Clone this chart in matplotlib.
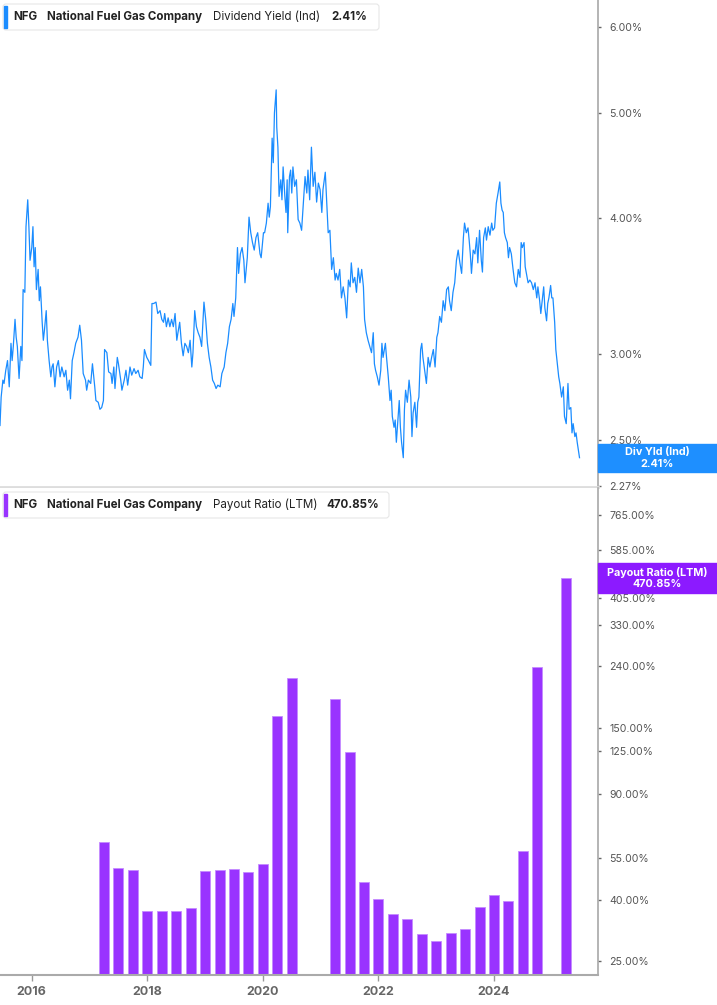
import matplotlib
matplotlib.use('agg')
import matplotlib.pyplot as plt
from matplotlib.patches import Rectangle, FancyBboxPatch
from matplotlib.ticker import FixedLocator, NullLocator, FuncFormatter
from matplotlib.transforms import IdentityTransform

plt.rcParams['font.family'] = ['Inter', 'DejaVu Sans']

# dividend yield (ind) in %, dates as decimal years
yield_dates = [
    2015.45, 2015.47, 2015.50, 2015.52, 2015.55, 2015.58, 2015.61, 2015.64, 2015.66, 2015.68,
    2015.71, 2015.73, 2015.75, 2015.78, 2015.81, 2015.83, 2015.85, 2015.88, 2015.90, 2015.93,
    2015.95, 2015.97, 2016.00, 2016.02, 2016.04, 2016.06, 2016.08, 2016.11, 2016.13, 2016.15,
    2016.18, 2016.20, 2016.22, 2016.25, 2016.27, 2016.30, 2016.33, 2016.35, 2016.37, 2016.40,
    2016.43, 2016.46, 2016.49, 2016.52, 2016.56, 2016.59, 2016.62, 2016.65, 2016.67, 2016.70,
    2016.73, 2016.76, 2016.80, 2016.83, 2016.86, 2016.89, 2016.93, 2016.95, 2016.98, 2017.02,
    2017.05, 2017.09, 2017.11, 2017.15, 2017.18, 2017.21, 2017.24, 2017.26, 2017.30, 2017.33,
    2017.37, 2017.39, 2017.42, 2017.44, 2017.48, 2017.50, 2017.54, 2017.56, 2017.60, 2017.63,
    2017.66, 2017.70, 2017.73, 2017.77, 2017.80, 2017.84, 2017.87, 2017.91, 2017.93, 2017.95,
    2017.99, 2018.02, 2018.06, 2018.08, 2018.11, 2018.15, 2018.18, 2018.22, 2018.25, 2018.28,
    2018.30, 2018.33, 2018.36, 2018.39, 2018.42, 2018.45, 2018.48, 2018.51, 2018.53, 2018.56,
    2018.59, 2018.62, 2018.65, 2018.68, 2018.71, 2018.74, 2018.77, 2018.79, 2018.82, 2018.85,
    2018.88, 2018.91, 2018.94, 2018.97, 2018.98, 2019.01, 2019.04, 2019.07, 2019.10, 2019.13,
    2019.16, 2019.19, 2019.22, 2019.26, 2019.29, 2019.33, 2019.36, 2019.39, 2019.42, 2019.45,
    2019.48, 2019.50, 2019.53, 2019.56, 2019.58, 2019.61, 2019.64, 2019.67, 2019.69, 2019.73,
    2019.76, 2019.79, 2019.82, 2019.85, 2019.88, 2019.91, 2019.95, 2019.97, 2020.01, 2020.03,
    2020.06, 2020.09, 2020.11, 2020.13, 2020.16, 2020.18, 2020.20, 2020.23, 2020.24, 2020.26,
    2020.28, 2020.31, 2020.33, 2020.35, 2020.38, 2020.40, 2020.42, 2020.43, 2020.46, 2020.48,
    2020.50, 2020.52, 2020.55, 2020.58, 2020.61, 2020.64, 2020.67, 2020.70, 2020.73, 2020.76,
    2020.78, 2020.81, 2020.84, 2020.87, 2020.90, 2020.93, 2020.96, 2020.99, 2021.02, 2021.04,
    2021.08, 2021.10, 2021.13, 2021.16, 2021.19, 2021.22, 2021.25, 2021.27, 2021.30, 2021.33,
    2021.36, 2021.39, 2021.42, 2021.45, 2021.48, 2021.51, 2021.53, 2021.56, 2021.59, 2021.62,
    2021.65, 2021.68, 2021.71, 2021.74, 2021.76, 2021.79, 2021.82, 2021.85, 2021.88, 2021.91,
    2021.93, 2021.95, 2021.98, 2022.01, 2022.04, 2022.06, 2022.08, 2022.12, 2022.14, 2022.17,
    2022.20, 2022.22, 2022.24, 2022.27, 2022.29, 2022.31, 2022.34, 2022.36, 2022.38, 2022.40,
    2022.43, 2022.45, 2022.47, 2022.50, 2022.53, 2022.56, 2022.58, 2022.60, 2022.63, 2022.66,
    2022.68, 2022.70, 2022.73, 2022.75, 2022.77, 2022.80, 2022.83, 2022.86, 2022.89, 2022.92,
    2022.95, 2022.98, 2023.01, 2023.03, 2023.06, 2023.09, 2023.12, 2023.15, 2023.18, 2023.21,
    2023.23, 2023.26, 2023.29, 2023.32, 2023.35, 2023.38, 2023.41, 2023.44, 2023.47, 2023.49,
    2023.52, 2023.55, 2023.57, 2023.59, 2023.61, 2023.64, 2023.67, 2023.70, 2023.72, 2023.75,
    2023.78, 2023.80, 2023.82, 2023.85, 2023.87, 2023.90, 2023.93, 2023.96, 2023.98, 2024.01,
    2024.04, 2024.07, 2024.10, 2024.12, 2024.14, 2024.16, 2024.18, 2024.20, 2024.23, 2024.25,
    2024.27, 2024.30, 2024.33, 2024.36, 2024.39, 2024.42, 2024.45, 2024.47, 2024.49, 2024.52,
    2024.54, 2024.56, 2024.59, 2024.62, 2024.65, 2024.68, 2024.71, 2024.74, 2024.76, 2024.79,
    2024.81, 2024.84, 2024.86, 2024.88, 2024.91, 2024.93, 2024.95, 2024.98, 2025.00, 2025.02,
    2025.05, 2025.07, 2025.09, 2025.12, 2025.14, 2025.17, 2025.20, 2025.22, 2025.25, 2025.28,
    2025.30, 2025.33, 2025.35, 2025.37, 2025.40, 2025.42, 2025.44, 2025.48,
]
yield_values = [
    2.58, 2.74, 2.84, 2.82, 2.90, 2.96, 2.80, 3.07, 2.96, 3.05,
    3.23, 3.11, 3.05, 2.85, 3.05, 2.96, 3.44, 3.42, 3.93, 4.16,
    3.93, 3.66, 3.76, 3.93, 3.61, 3.76, 3.44, 3.59, 3.36, 3.46,
    3.21, 3.09, 3.16, 3.29, 3.09, 2.96, 2.86, 2.92, 2.94, 2.80,
    2.92, 2.96, 2.86, 2.92, 2.86, 2.90, 2.78, 2.84, 2.73, 2.96,
    3.01, 3.07, 3.11, 3.19, 3.09, 2.88, 2.84, 2.78, 2.84, 2.82,
    2.94, 2.80, 2.72, 2.71, 2.67, 2.68, 2.72, 3.03, 3.01, 2.89,
    2.88, 2.82, 2.92, 2.79, 2.98, 2.94, 2.84, 2.78, 2.84, 2.90,
    2.81, 2.92, 2.87, 2.91, 2.88, 2.90, 2.86, 2.85, 2.92, 3.03,
    2.98, 2.96, 2.93, 3.34, 3.34, 3.35, 3.27, 3.29, 3.23, 3.21,
    3.27, 3.18, 3.24, 3.18, 3.23, 3.18, 3.27, 3.09, 3.14, 3.21,
    3.07, 2.99, 3.07, 3.05, 3.01, 3.09, 2.92, 3.01, 3.29, 3.18,
    3.14, 3.11, 3.05, 3.27, 3.35, 3.23, 3.07, 2.98, 2.92, 2.84,
    2.82, 2.79, 2.81, 2.80, 2.88, 2.92, 3.01, 3.07, 3.18, 3.23,
    3.34, 3.25, 3.38, 3.76, 3.56, 3.71, 3.76, 3.66, 3.49, 3.68,
    4.01, 3.88, 3.80, 3.74, 3.84, 3.88, 3.71, 3.68, 3.88, 3.88,
    3.96, 4.13, 4.01, 4.10, 4.74, 4.50, 5.00, 5.25, 4.85, 4.65,
    4.19, 4.34, 4.16, 4.46, 4.19, 4.05, 4.34, 3.88, 4.37, 4.43,
    4.22, 4.46, 4.28, 4.34, 3.99, 3.96, 3.90, 4.13, 4.37, 4.22,
    4.43, 4.16, 4.65, 4.28, 4.41, 4.14, 4.31, 4.25, 4.05, 4.25,
    4.41, 4.19, 3.88, 3.90, 3.59, 3.68, 3.51, 3.56, 3.51, 3.59,
    3.38, 3.46, 3.38, 3.24, 3.51, 3.46, 3.64, 3.49, 3.53, 3.42,
    3.60, 3.49, 3.59, 3.46, 3.23, 3.14, 3.09, 3.05, 3.01, 3.14,
    2.94, 2.90, 2.86, 2.81, 2.90, 3.07, 2.98, 3.07, 2.98, 2.86,
    2.72, 2.78, 2.63, 2.57, 2.61, 2.49, 2.63, 2.72, 2.57, 2.49,
    2.41, 2.67, 2.78, 2.71, 2.84, 2.74, 2.52, 2.65, 2.71, 2.57,
    2.71, 2.74, 3.03, 3.07, 2.98, 2.90, 2.82, 2.98, 2.92, 2.98,
    3.03, 2.92, 3.11, 3.14, 3.25, 3.21, 3.36, 3.29, 3.44, 3.46,
    3.36, 3.29, 3.42, 3.49, 3.66, 3.74, 3.64, 3.56, 3.84, 3.96,
    3.88, 3.92, 3.82, 3.71, 3.56, 3.74, 3.71, 3.84, 3.64, 3.90,
    3.66, 3.57, 3.84, 3.92, 3.82, 3.93, 3.86, 3.96, 3.90, 3.92,
    4.13, 4.22, 4.32, 4.13, 4.07, 4.05, 3.88, 3.84, 3.80, 3.68,
    3.76, 3.71, 3.59, 3.49, 3.46, 3.59, 3.53, 3.80, 3.76, 3.80,
    3.61, 3.56, 3.49, 3.51, 3.49, 3.44, 3.49, 3.38, 3.46, 3.36,
    3.27, 3.38, 3.46, 3.31, 3.22, 3.34, 3.38, 3.47, 3.38, 3.38,
    3.21, 3.03, 2.96, 2.86, 2.82, 2.74, 2.80, 2.63, 2.59, 2.82,
    2.67, 2.68, 2.54, 2.59, 2.52, 2.54, 2.49, 2.41,
]

# payout ratio (LTM) in %, quarter ends as decimal years
payout_dates = [
    2017.25, 2017.50, 2017.75, 2018.00, 2018.25, 2018.50, 2018.75, 2019.00, 2019.25, 2019.50,
    2019.75, 2020.00, 2020.25, 2020.50,
    2021.25, 2021.50, 2021.75, 2022.00, 2022.25, 2022.50, 2022.75, 2023.00, 2023.25, 2023.50,
    2023.75, 2024.00, 2024.25, 2024.50, 2024.75,
    2025.25,
]
payout_values = [
    61.2, 50.2, 49.2, 35.7, 35.7, 35.7, 36.6, 48.9, 49.5, 49.7,
    48.6, 51.6, 163.2, 217.7,
    185.5, 123.6, 45.0, 39.4, 35.0, 33.7, 29.8, 28.3, 30.0, 31.1,
    37.0, 40.6, 38.8, 57.2, 237.0,
    470.85,
]

yield_ticks = [2.27, 2.5, 3, 4, 5, 6]
payout_ticks = [25, 40, 55, 90, 125, 150, 240, 330, 405, 585, 765]
year_ticks = [2016, 2018, 2020, 2022, 2024]

ticker = 'NFG'
company = 'National Fuel Gas Company'
yield_label = 'Dividend Yield (Ind)'
payout_label = 'Payout Ratio (LTM)'
yield_badge = 'Div Yld (Ind)'

BLUE = '#1a8cff'
PURPLE = '#9933ff'
W, H = 717, 1005
AX_RIGHT = 598

fig = plt.figure(figsize=(W / 100, H / 100), dpi=100)


def px_axes(x0, y0, x1, y1):
    # axes placed by pixel box (top-left origin)
    return fig.add_axes([x0 / W, 1 - y1 / H, (x1 - x0) / W, (y1 - y0) / H])


def style_axis(ax, ticks):
    ax.set_yscale('log')
    ax.yaxis.tick_right()
    ax.yaxis.set_major_locator(FixedLocator(ticks))
    ax.yaxis.set_minor_locator(NullLocator())
    ax.yaxis.set_major_formatter(FuncFormatter(lambda v, p: f'{v:.2f}%'))
    ax.tick_params(axis='y', length=2, width=1, color='#666666',
                   labelcolor='#555555', labelsize=7.6, pad=6)
    ax.spines['top'].set_visible(False)
    ax.spines['left'].set_visible(False)
    ax.spines['right'].set_color('#a8a8a8')
    ax.spines['right'].set_linewidth(1.2)
    ax.set_xlim(2015.45, 2025.80)
    ax.set_facecolor('white')


def legend_box(y0, y1, x1, color, parts):
    fig.add_artist(FancyBboxPatch((3, H - y1), x1 - 3, y1 - y0,
                                  boxstyle='round,pad=0,rounding_size=3',
                                  transform=IdentityTransform(), fc='white',
                                  ec='#e6e6e6', lw=0.8, zorder=6))
    fig.add_artist(Rectangle((4, H - y1 + 2), 3, y1 - y0 - 4,
                             transform=IdentityTransform(), color=color, zorder=7))
    yc = 1 - (y0 + y1) / 2 / H
    for x, s, w in parts:
        fig.text(x / W, yc, s, fontsize=8.3, fontweight=w, color='#222222',
                 va='center', ha='left', zorder=8)


def badge(ax, value, color, label, h):
    # value tag on the right axis, placed at the value through the axis scale
    yc = ax.transData.transform((2020, value))[1]
    fig.add_artist(Rectangle((AX_RIGHT, yc - h / 2), W - AX_RIGHT, h,
                             transform=IdentityTransform(), color=color, zorder=5))
    xc = (AX_RIGHT + W) / 2 / W
    fig.text(xc, (yc + 6) / H, label, fontsize=7.8, fontweight='bold',
             color='white', ha='center', va='center', zorder=6)
    fig.text(xc, (yc - 6) / H, f'{value:.2f}%', fontsize=7.8, fontweight='bold',
             color='white', ha='center', va='center', zorder=6)


# top panel: dividend yield
ax1 = px_axes(0, 0, AX_RIGHT, 487)
style_axis(ax1, yield_ticks)
ax1.plot(yield_dates, yield_values, color=BLUE, lw=0.9)
ax1.set_ylim(2.265, 6.35)
ax1.spines['bottom'].set_color('#dddddd')
ax1.spines['bottom'].set_linewidth(2)
ax1.tick_params(axis='x', bottom=False, labelbottom=False)

# bottom panel: payout ratio
ax2 = px_axes(0, 488, AX_RIGHT, 975)
style_axis(ax2, payout_ticks)
ax2.bar(payout_dates, payout_values, width=0.173, bottom=1, color=PURPLE,
        edgecolor='#c58cff', linewidth=0.6)
ax2.set_ylim(22.5, 942)
ax2.set_xticks(year_ticks)
ax2.set_xticklabels([str(y) for y in year_ticks], fontweight='bold')
ax2.tick_params(axis='x', length=4, width=1, color='#999999', labelcolor='#666666',
                labelsize=9, pad=4)
ax2.spines['bottom'].set_color('#aaaaaa')
ax2.spines['bottom'].set_linewidth(1.5)

legend_box(4, 30, 379, BLUE, [(13, ticker, 'bold'), (47, company, 'bold'),
                               (213, yield_label, 'normal'),
                               (331, f'{yield_values[-1]:.2f}%', 'bold')])
legend_box(492, 518, 389, PURPLE, [(13, ticker, 'bold'), (47, company, 'bold'),
                                    (213, payout_label, 'normal'),
                                    (326, f'{payout_values[-1]:.2f}%', 'bold')])

badge(ax1, yield_values[-1], '#1e8fff', yield_badge, 28)
badge(ax2, payout_values[-1], '#8c1aff', payout_label, 30)

fig.savefig('out.png', dpi=100, facecolor='white')
